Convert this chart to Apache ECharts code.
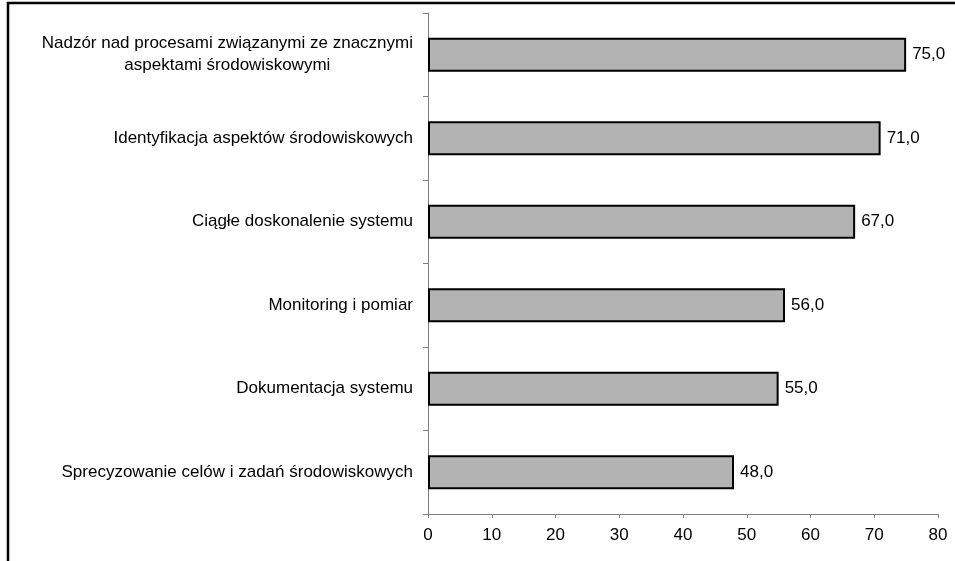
<!DOCTYPE html>
<html>
<head>
<meta charset="utf-8">
<script src="https://cdn.jsdelivr.net/npm/echarts@6/dist/echarts.min.js"></script>
<style>
html,body{margin:0;padding:0;background:#fff;}
#c{width:955px;height:561px;}
</style>
</head>
<body>
<div id="c"></div>
<script>
var categories = [
  "Nadzór nad procesami związanymi ze znacznymi\naspektami środowiskowymi",
  "Identyfikacja aspektów środowiskowych",
  "Ciągłe doskonalenie systemu",
  "Monitoring i pomiar",
  "Dokumentacja systemu",
  "Sprecyzowanie celów i zadań środowiskowych"
];
var values = [75.0, 71.0, 67.0, 56.0, 55.0, 48.0];
var xTicks = { min: 0, max: 80, interval: 10 };

var FONT = '"Liberation Sans", Arial, sans-serif';
var chart = echarts.init(document.getElementById('c'), null, {renderer: 'canvas'});
chart.setOption({
  backgroundColor: '#ffffff',
  animation: false,
  grid: { left: 428, top: 13, right: 17, bottom: 47, containLabel: false },
  xAxis: {
    type: 'value',
    min: xTicks.min, max: xTicks.max, interval: xTicks.interval,
    axisLine: { show: true, lineStyle: { color: '#808080', width: 1 } },
    axisTick: { show: true, length: 4, lineStyle: { color: '#808080' } },
    splitLine: { show: false },
    axisLabel: { color: '#000', fontSize: 17, fontFamily: FONT, margin: 13 }
  },
  yAxis: {
    type: 'category',
    data: categories,
    inverse: true,
    axisLine: { show: true, lineStyle: { color: '#808080', width: 1 } },
    axisTick: { show: true, length: 5, lineStyle: { color: '#808080' } },
    axisLabel: {
      color: '#000', fontSize: 17, fontFamily: FONT, margin: 15,
      formatter: function (v) { return '{c|' + v.split('\n').join('}\n{c|') + '}'; },
      rich: { c: { align: 'center', fontSize: 17, fontFamily: FONT, color: '#000', lineHeight: 22 } }
    }
  },
  series: [{
    type: 'bar',
    data: values,
    barWidth: 34,
    itemStyle: { color: '#b3b3b3', borderColor: '#000', borderWidth: 2 },
    label: {
      show: true, position: 'right', distance: 6,
      color: '#000', fontSize: 17, fontFamily: FONT,
      formatter: function (p) { return p.value.toFixed(1).replace('.', ','); }
    }
  }],
  graphic: [
    { type: 'line', shape: { x1: 7, y1: 3, x2: 955, y2: 3 }, style: { stroke: '#000', lineWidth: 2.5 } },
    { type: 'line', shape: { x1: 8, y1: 2, x2: 8, y2: 561 }, style: { stroke: '#000', lineWidth: 2.5 } }
  ]
});
</script>
</body>
</html>
